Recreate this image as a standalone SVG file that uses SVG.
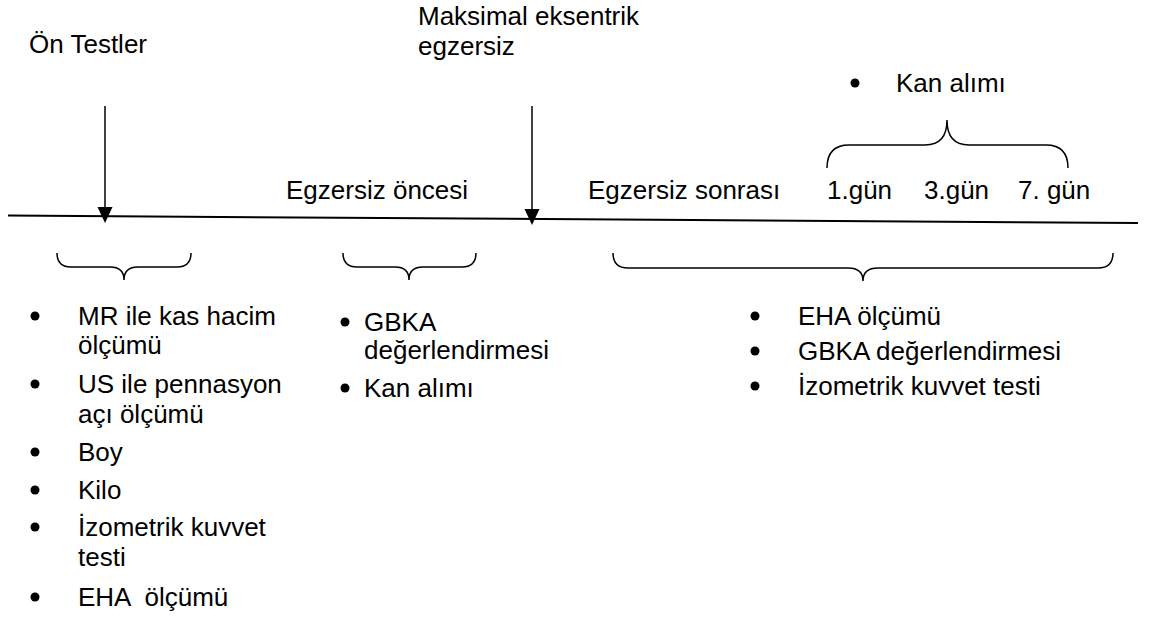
<svg xmlns="http://www.w3.org/2000/svg" width="1158" height="621" viewBox="0 0 1158 621">
<style>
text{font-family:"Liberation Sans",Arial,sans-serif;font-size:26px;fill:#000}
.ln{stroke:#000;stroke-width:2;fill:none}
.br{stroke:#000;stroke-width:1.5;fill:none}
.dot{fill:#000}
</style>
<rect width="1158" height="621" fill="#fff"/>
<g id="connectors">
<line class="ln" x1="8" y1="215.5" x2="1138" y2="223"/>
<line x1="105" y1="106" x2="105" y2="209" stroke="#000" stroke-width="1.5"/>
<path d="M97.5,207 L112.5,207 L105,223 Z" fill="#000"/>
<line x1="532" y1="106" x2="532" y2="211" stroke="#000" stroke-width="1.5"/>
<path d="M524.5,209 L539.5,209 L532,225 Z" fill="#000"/>
</g>
<g id="on-testler"><text x="29" y="53">Ön Testler</text></g>
<g id="maksimal"><text x="418" y="25">Maksimal eksentrik</text><text x="418" y="55">egzersiz</text></g>
<g id="kan-alimi-top"><circle class="dot" cx="855" cy="83" r="4.5"/><text x="896" y="92">Kan alımı</text></g>
<g id="brace-top"><path class="br" d="M827,168 Q827,145 849,145 L925,145 Q947,145 947,120 Q947,145 969,145 L1046,145 Q1068,145 1068,168"/></g>
<g id="egzersiz-oncesi"><text x="286" y="199">Egzersiz öncesi</text></g>
<g id="egzersiz-sonrasi"><text x="588" y="199">Egzersiz sonrası</text><text x="827" y="199">1.gün</text><text x="924" y="199">3.gün</text><text x="1018" y="199">7. gün</text></g>
<g id="brace-1"><path class="br" d="M57,253 Q57,267 71,267 L110,267 Q124,267 124,280 Q124,267 138,267 L177,267 Q191,267 191,253"/></g>
<g id="brace-2"><path class="br" d="M343,253 Q343,267 357,267 L395,267 Q409,267 409,280 Q409,267 423,267 L462,267 Q476,267 476,253"/></g>
<g id="brace-3"><path class="br" d="M613,253 Q613,268 628,268 L848,268 Q863,268 863,281 Q863,268 878,268 L1098,268 Q1113,268 1113,253"/></g>
<g id="list-left">
<circle class="dot" cx="35" cy="316" r="4.5"/><text x="78" y="325">MR ile kas hacim</text><text x="78" y="354">ölçümü</text>
<circle class="dot" cx="35" cy="384" r="4.5"/><text x="78" y="393">US ile pennasyon</text><text x="78" y="423">açı ölçümü</text>
<circle class="dot" cx="35" cy="452" r="4.5"/><text x="78" y="461">Boy</text>
<circle class="dot" cx="35" cy="490" r="4.5"/><text x="78" y="499">Kilo</text>
<circle class="dot" cx="35" cy="527" r="4.5"/><text x="78" y="536">İzometrik kuvvet</text><text x="78" y="566">testi</text>
<circle class="dot" cx="35" cy="597" r="4.5"/><text x="78" y="606" xml:space="preserve">EHA  ölçümü</text>
</g>
<g id="list-middle">
<circle class="dot" cx="345" cy="322" r="4.5"/><text x="364" y="331">GBKA</text><text x="364" y="359">değerlendirmesi</text>
<circle class="dot" cx="345" cy="388" r="4.5"/><text x="364" y="397">Kan alımı</text>
</g>
<g id="list-right">
<circle class="dot" cx="755" cy="316" r="4.5"/><text x="798" y="325">EHA ölçümü</text>
<circle class="dot" cx="755" cy="351" r="4.5"/><text x="798" y="360">GBKA değerlendirmesi</text>
<circle class="dot" cx="755" cy="386" r="4.5"/><text x="798" y="395">İzometrik kuvvet testi</text>
</g>
</svg>
